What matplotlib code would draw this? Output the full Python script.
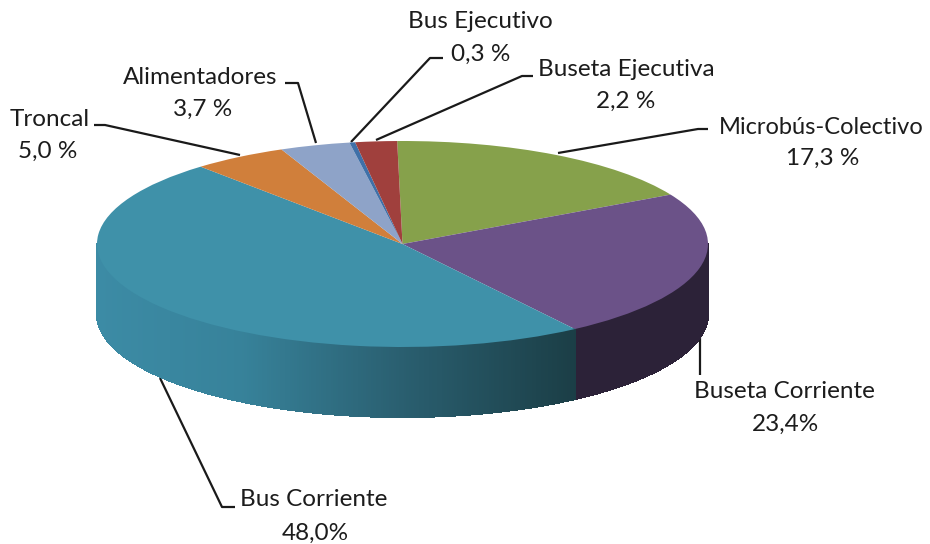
import numpy as np
from matplotlib import pyplot as plt
from matplotlib import colors as mcolors
from matplotlib.transforms import Affine2D

plt.rcParams["font.family"] = ["Lato", "DejaVu Sans"]

names = ["Microbús-Colectivo", "Buseta Corriente", "Bus Corriente", "Troncal",
         "Alimentadores", "Bus Ejecutivo", "Buseta Ejecutiva"]
shares = [17.3, 23.4, 48.0, 5.0, 3.7, 0.3, 2.2]
share_labels = ["17,3 %", "23,4%", "48,0%", "5,0 %", "3,7 %", "0,3 %", "2,2 %"]
top_colors = ["#86a14b", "#6b5288", "#3f91a9", "#d07f3b", "#8ea3c8", "#3f70a8", "#a0403d"]
side_colors = ["#5a6d32", "#2c2238", None, "#8a5427", "#5f6d87", "#2a4b70", "#6b2b29"]

# Ellipse geometry in image pixels
cx, cy = 402.5, 244
rx, ry = 305.5, 103
depth = 70
start_deg = 91

# Shading along the front wall of the big slice
grad_x = [97, 240, 400, 575]
grad_colors = ["#3c8ba5", "#37829a", "#2a5f70", "#1b3e46"]

# name pos, share pos, leader points
name_pos = [(821, 127), (784, 391), (314, 500), (50, 120), (200, 77), (480, 21), (626, 70)]
share_pos = [(823, 158), (785, 424), (315, 533), (48, 151), (203, 109), (481, 54), (626, 101)]
name_size = [17, 17.5, 17.5, 17.5, 17.5, 17.5, 17.5]
leaders = [
    [(558, 153), (698, 129), (708, 129)],
    [(700, 337), (700, 375)],
    [(160, 378), (222, 507), (235, 507)],
    [(240, 155), (105, 125), (94, 125)],
    [(316, 143), (298, 83), (285, 83)],
    [(351, 142), (430, 58), (443, 58)],
    [(376, 140), (522, 76), (533, 76)],
]


def wall_color(i, x):
    if side_colors[i] is not None:
        return side_colors[i]
    rgb = np.array([mcolors.to_rgb(c) for c in grad_colors])
    return tuple(np.interp(x, grad_x, rgb[:, k]) for k in range(3))


fig = plt.figure(figsize=(9.3, 5.44), dpi=100)
ax = fig.add_axes([0, 0, 1, 1])

wedges, _ = ax.pie(shares, colors=top_colors, startangle=start_deg, counterclock=False,
                   wedgeprops={"linewidth": 0})
tr = Affine2D().scale(rx, -ry).translate(cx, cy) + ax.transData
for w in wedges:
    w.set_transform(tr)
    w.set_zorder(3)

# Front wall, one thin quad at a time
edges = np.cumsum([0] + shares) / sum(shares) * 2 * np.pi + np.radians(90 - start_deg)
for i in range(len(shares)):
    a0 = max(edges[i], np.pi / 2)
    a1 = min(edges[i + 1], 3 * np.pi / 2)
    if a1 <= a0:
        continue
    steps = np.linspace(a0, a1, int((a1 - a0) * 120) + 2)
    for s0, s1 in zip(steps[:-1], steps[1:]):
        x0, x1 = cx + rx * np.sin(s0), cx + rx * np.sin(s1)
        y0, y1 = cy - ry * np.cos(s0), cy - ry * np.cos(s1)
        c = wall_color(i, (x0 + x1) / 2)
        ax.fill([x0, x1, x1, x0], [y0, y1, y1 + depth, y0 + depth],
                color=c, linewidth=0.8, antialiased=False, zorder=2)

for pts in leaders:
    xs, ys = zip(*pts)
    ax.plot(xs, ys, color="#1a1a1a", lw=1.6, zorder=1, solid_capstyle="butt")

for i in range(len(names)):
    ax.text(*name_pos[i], names[i], ha="center", va="center", fontsize=name_size[i], color="#1c1c1c")
    ax.text(*share_pos[i], share_labels[i], ha="center", va="center", fontsize=17.5, color="#1c1c1c")

ax.set_aspect("auto")
ax.set_xlim(0, 930)
ax.set_ylim(544, 0)
ax.axis("off")

fig.savefig("out.png", dpi=100)
